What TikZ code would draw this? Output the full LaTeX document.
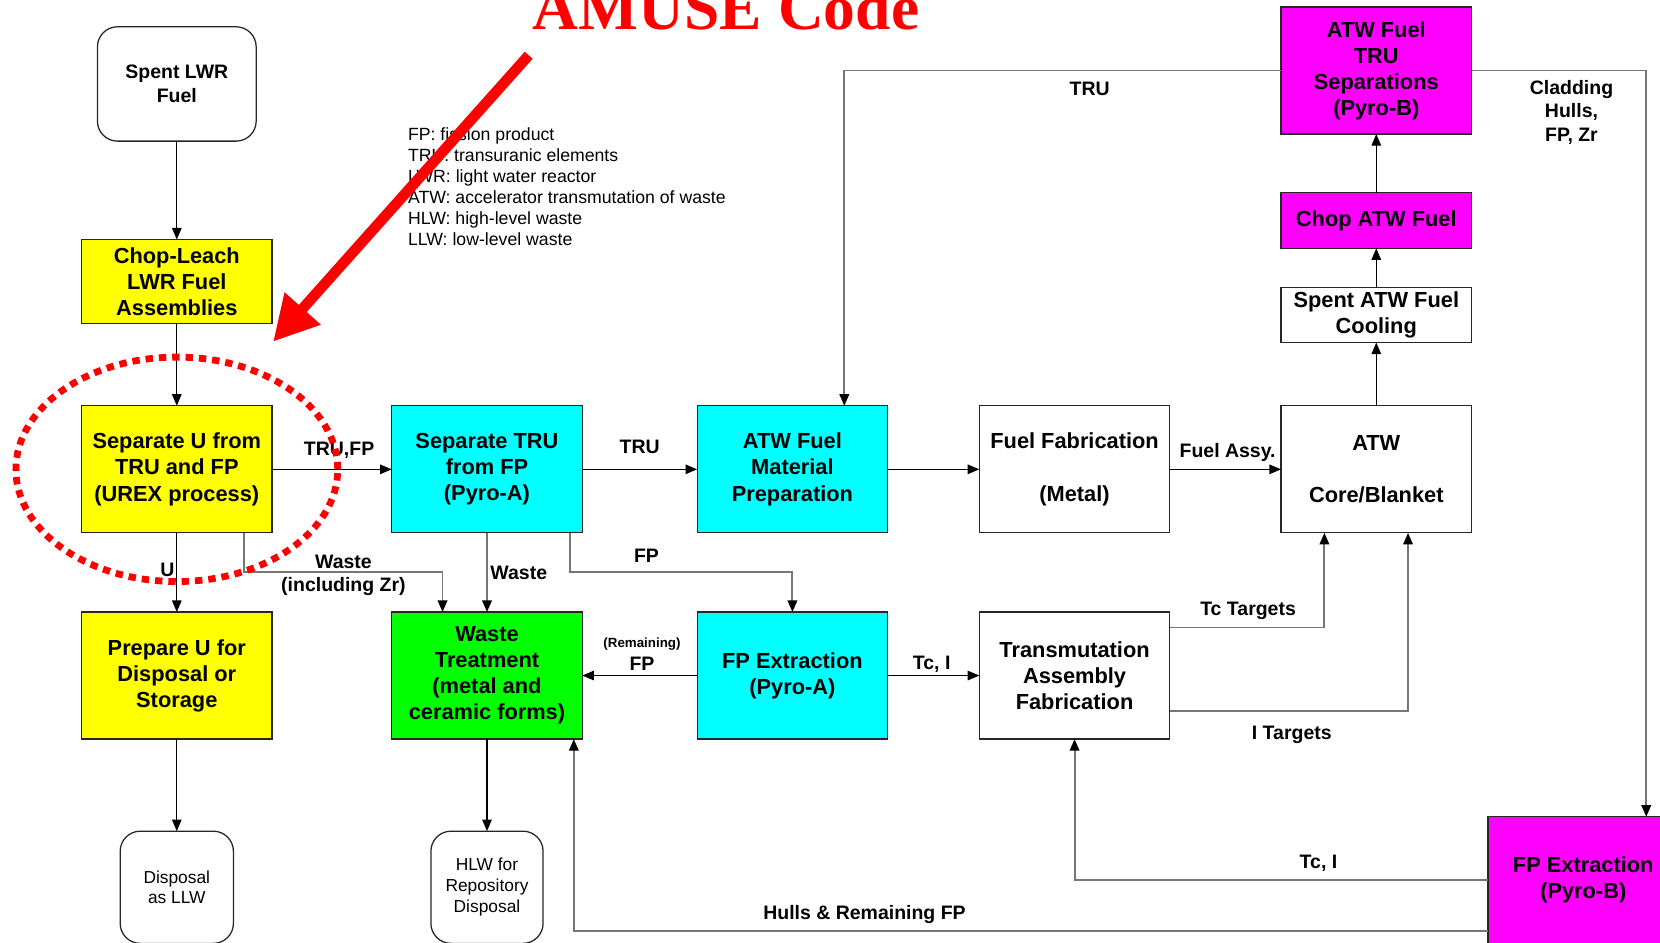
\documentclass[tikz,border=0pt]{standalone}
\usepackage{fontspec}
\setmainfont{Liberation Sans}
\newfontfamily\fcserif{Liberation Serif}
\usepackage{tikz}
\newcommand{\fcboxfont}{\fontsize{10.3pt}{12.3pt}\selectfont\bfseries}
\newcommand{\fclabfont}{\fontsize{9.2pt}{11.1pt}\selectfont\bfseries}
\newcommand{\fcsmallfont}{\fontsize{8.2pt}{9.9pt}\selectfont}
\usetikzlibrary{arrows.meta,positioning}
\definecolor{fcyellow}{RGB}{255,255,0}
\definecolor{fccyan}{RGB}{0,255,255}
\definecolor{fcgreen}{RGB}{0,255,0}
\definecolor{fcmagenta}{RGB}{255,0,255}
\definecolor{fcred}{RGB}{255,0,0}
\definecolor{fcline}{RGB}{118,118,118}
\tikzset{
  fcbox/.style={draw=black!85, line width=.6pt, fill=white, align=center, inner sep=0pt, outer sep=0pt, minimum width=90pt, minimum height=60pt, font=\fcboxfont},
  fcboxyellow/.style={fcbox, fill=fcyellow},
  fcboxcyan/.style={fcbox, fill=fccyan},
  fcboxgreen/.style={fcbox, fill=fcgreen},
  fcboxmagenta/.style={fcbox, fill=fcmagenta},
  fcend/.style={draw=black!85, line width=.6pt, rounded corners=9.5pt, fill=white, align=center, inner sep=0pt, outer sep=0pt, font=\fcsmallfont},
  fcarr/.style={-{Triangle[length=5.5pt,width=4.5pt]}, line width=.6pt, draw=black},
  fcarrgray/.style={-{Triangle[length=5.5pt,width=4.5pt,color=black]}, line width=.9pt, draw=fcline},
  fclab/.style={font=\fclabfont, align=center, inner sep=0pt},
  fcnote/.style={font={\fontsize{8.35pt}{9.9pt}\selectfont}, align=left, inner sep=0pt},
  fcpointer/.style={-{Triangle[length=21pt,width=21.5pt]}, line width=5pt, draw=fcred},
  fcring/.style={draw=fcred, line width=3.2pt, dash pattern=on 3.5pt off 2.8pt}
}

\begin{document}
\begin{tikzpicture}[x=.5pt, y=-.5pt]
  \useasboundingbox (0,0) rectangle (1568,890);
  \node[fcboxyellow] (sepu) at (167,443.3) {Separate U from\\TRU and FP\\(UREX process)};
  \node[fcboxyellow, minimum height=39.5pt, above=39pt of sepu] (chop) {Chop-Leach\\LWR Fuel\\Assemblies};
  \node[fcend, font=\fclabfont, minimum width=75pt, minimum height=54pt, above=46.5pt of chop] (spent) {Spent LWR\\Fuel};
  \node[fcboxcyan, right=56.5pt of sepu] (septru) {Separate TRU\\from FP\\(Pyro-A)};
  \node[fcboxcyan, right=54.25pt of septru] (atwmat) {ATW Fuel\\Material\\Preparation};
  \node[fcbox, right=43.25pt of atwmat] (fuelfab) {Fuel Fabrication\\[12.3pt](Metal)};
  \node[fcbox, right=52.5pt of fuelfab] (core) {ATW\\[12.3pt]Core/Blanket};
  \node[fcbox, minimum height=26pt, above=29.9pt of core] (cooling) {Spent ATW Fuel\\Cooling};
  \node[fcboxmagenta, minimum height=26.25pt, above=18.5pt of cooling] (chopatw) {Chop ATW Fuel};
  \node[fcboxmagenta, above=27.7pt of chopatw] (sepb) {ATW Fuel\\TRU\\Separations\\(Pyro-B)};
  \node[fcboxyellow, below=37.4pt of sepu] (prepu) {Prepare U for\\Disposal or\\Storage};
  \node[fcboxgreen, below=37.4pt of septru] (wastet) {Waste\\Treatment\\(metal and\\ceramic forms)};
  \node[fcboxcyan, below=37.4pt of atwmat] (fpexa) {FP Extraction\\(Pyro-A)};
  \node[fcbox, below=37.4pt of fuelfab] (transasm) {Transmutation\\Assembly\\Fabrication};
  \node[fcend, minimum width=53.5pt, minimum height=53pt, below=43.5pt of prepu] (llw) {Disposal\\as LLW};
  \node[fcend, minimum width=53pt, minimum height=53pt, below=43.5pt of wastet] (hlw) {HLW for\\Repository\\Disposal};
  \node[fcboxmagenta] (fpexb) at (1495.5,831.5) {FP Extraction\\(Pyro-B)};
  \node[fcnote, anchor=north west] (legend) at (385,120) {FP: fission product\\TRU: transuranic elements\\LWR: light water reactor\\ATW: accelerator transmutation of waste\\HLW: high-level waste\\LLW: low-level waste};

  \draw[fcarr] (spent) -- (chop);
  \draw[fcarr] (chop) -- (sepu);
  \draw[fcarr] (sepu) -- node[fclab, above=5pt, pos=.56] {TRU,FP} (septru);
  \draw[fcarr] (septru) -- node[fclab, above=7.3pt] {TRU} (atwmat);
  \draw[fcarr] (atwmat) -- (fuelfab);
  \draw[fcarr] (fuelfab) -- node[fclab, above=3.6pt, pos=.52] {Fuel Assy.} (core);
  \draw[fcarr] (core) -- (cooling);
  \draw[fcarr] (cooling) -- (chopatw);
  \draw[fcarr] (chopatw) -- (sepb);
  \draw[fcarrgray] (sepb.west) -| node[fclab, below=5pt, pos=.219] {TRU} ([xshift=24.5pt]atwmat.north);
  \draw[fcarrgray] (sepb.east) -| node[fclab, below=4.2pt, pos=.286] {Cladding\\Hulls,\\FP, Zr} ([xshift=29.75pt]fpexb.north);
  \draw[fcarr] (sepu) -- node[fclab, left=.8pt, pos=.47] {U} (prepu);
  \draw[fcarrgray] ([xshift=31.9pt]sepu.south) -- ++(0,36.7) -| node[fclab, pos=.25, yshift=-1.7pt] {Waste\\(including Zr)} ([xshift=-21pt]wastet.north);
  \draw[fcarrgray] (septru) -- node[fclab, right=1.2pt, pos=.51] {Waste} (wastet);
  \draw[fcarrgray] ([xshift=39.2pt]septru.south) -- ++(0,36.7) -| node[fclab, above=3.8pt, pos=.172] {FP} (fpexa.north);
  \draw[fcarr] (fpexa) -- node[fclab, above=2pt, pos=.48] {{\fontsize{6.3pt}{7pt}\selectfont(Remaining)}\\FP} (wastet);
  \draw[fcarr] (fpexa) -- node[fclab, above=1pt, pos=.48] {Tc, I} (transasm);
  \draw[fcarrgray] ([yshift=22.7pt]transasm.east) -| node[fclab, above=3.3pt, pos=.253] {Tc Targets} ([xshift=-24.5pt]core.south);
  \draw[fcarrgray] ([yshift=-16.6pt]transasm.east) -| node[fclab, below=6.6pt, pos=.256] {I Targets} ([xshift=15pt]core.south);
  \draw[fcarr] (prepu) -- (llw);
  \draw[fcarr] (wastet) -- (hlw);
  \draw[fcarrgray] (fpexb.west) -| node[fclab, above=3.8pt, pos=.205] {Tc, I} (transasm.south);
  \draw[fcarrgray] ([yshift=-23.75pt]fpexb.west) -| node[fclab, above=2.8pt, pos=.341] {Hulls \& Remaining FP} ([xshift=41pt]wastet.south);

  \node[font={\fcserif\fontsize{30pt}{36pt}\selectfont\bfseries}, text=fcred, anchor=base, inner sep=0pt] (amuse) at (685.8,28.3) {AMUSE Code};
  \coordinate (pointtail) at (499.4,52.2);
  \coordinate (pointtip) at (258,322.7);
  \draw[fcpointer] (pointtail) -- (pointtip);
  \draw[fcring] (sepu.center) ellipse [x radius=76pt, y radius=53pt];
\end{tikzpicture}
\end{document}
